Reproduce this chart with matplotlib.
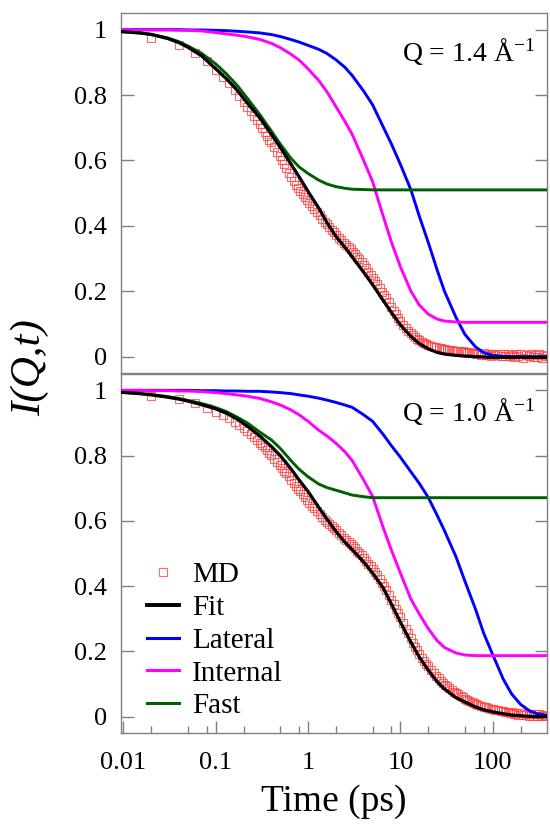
import matplotlib as mpl
import matplotlib.pyplot as plt
from matplotlib.ticker import FixedLocator, FixedFormatter, NullFormatter
from matplotlib.lines import Line2D

mpl.rcParams["font.family"] = ["Liberation Serif", "DejaVu Serif"]
mpl.rcParams["mathtext.fontset"] = "custom"
mpl.rcParams["mathtext.rm"] = "Liberation Serif"
mpl.rcParams["mathtext.it"] = "Liberation Serif:italic"
mpl.rcParams["axes.unicode_minus"] = False

# time grid of the model curves (ps)
t_line = [0.0094, 0.015, 0.02, 0.03, 0.04, 0.05, 0.07, 0.1, 0.13, 0.17, 0.22,
          0.3, 0.4, 0.5, 0.65, 0.8, 1.0, 1.3, 1.6, 2.0, 2.5, 3.0, 4.0, 5.0,
          6.5, 8.0, 10, 13, 16, 20, 25, 30, 40, 50, 65, 80, 100, 130, 160,
          200, 250, 300, 390]

# Q = 1.4 A^-1
fit_14 = [0.994, 0.99, 0.985, 0.973, 0.96, 0.946, 0.92, 0.88, 0.85, 0.815,
          0.775, 0.73, 0.68, 0.64, 0.59, 0.55, 0.505, 0.455, 0.41, 0.368,
          0.335, 0.305, 0.258, 0.22, 0.172, 0.135, 0.097, 0.062, 0.04, 0.024,
          0.013, 0.008, 0.004, 0.002, 0.0, -0.001, -0.002, -0.002, -0.002,
          -0.002, -0.002, -0.002, -0.002]
fast_14 = [0.994, 0.99, 0.986, 0.975, 0.963, 0.95, 0.928, 0.895, 0.865, 0.83,
           0.79, 0.74, 0.69, 0.65, 0.607, 0.58, 0.56, 0.54, 0.528, 0.52,
           0.515, 0.512, 0.511, 0.51, 0.51, 0.51, 0.51, 0.51, 0.51, 0.51,
           0.51, 0.51, 0.51, 0.51, 0.51, 0.51, 0.51, 0.51, 0.51, 0.51, 0.51,
           0.51, 0.51]
internal_14 = [1.0, 0.999, 0.999, 0.999, 0.998, 0.998, 0.996, 0.991, 0.987,
               0.983, 0.978, 0.97, 0.958, 0.945, 0.925, 0.907, 0.88, 0.845,
               0.81, 0.765, 0.72, 0.68, 0.6, 0.535, 0.43, 0.35, 0.275, 0.2,
               0.158, 0.13, 0.115, 0.109, 0.106, 0.105, 0.105, 0.105, 0.105,
               0.105, 0.105, 0.105, 0.105, 0.105, 0.105]
lateral_14 = [1.0, 1.0, 1.0, 1.0, 1.0, 0.999, 0.999, 0.998, 0.997, 0.995,
              0.993, 0.99, 0.985, 0.979, 0.97, 0.962, 0.952, 0.94, 0.927,
              0.908, 0.885, 0.86, 0.812, 0.77, 0.703, 0.65, 0.588, 0.51,
              0.43, 0.35, 0.265, 0.2, 0.12, 0.068, 0.03, 0.012, 0.004, 0.001,
              0.0, 0.0, 0.0, 0.0, 0.0]

# Q = 1.0 A^-1
fit_10 = [0.994, 0.99, 0.986, 0.979, 0.973, 0.967, 0.956, 0.943, 0.93, 0.912,
          0.89, 0.86, 0.828, 0.8, 0.76, 0.725, 0.69, 0.642, 0.605, 0.568,
          0.535, 0.512, 0.474, 0.44, 0.395, 0.345, 0.29, 0.228, 0.183, 0.143,
          0.107, 0.085, 0.058, 0.045, 0.03, 0.021, 0.015, 0.009, 0.005,
          0.003, 0.001, 0.0, 0.0]
fast_10 = [0.994, 0.99, 0.987, 0.981, 0.975, 0.969, 0.96, 0.947, 0.935, 0.918,
           0.9, 0.872, 0.848, 0.822, 0.785, 0.758, 0.735, 0.713, 0.702,
           0.694, 0.686, 0.679, 0.674, 0.671, 0.671, 0.671, 0.671, 0.671,
           0.671, 0.671, 0.671, 0.671, 0.671, 0.671, 0.671, 0.671, 0.671,
           0.671, 0.671, 0.671, 0.671, 0.671, 0.671]
internal_10 = [1.0, 1.0, 0.999, 0.999, 0.998, 0.998, 0.996, 0.993, 0.99,
               0.986, 0.982, 0.975, 0.965, 0.955, 0.94, 0.925, 0.905, 0.878,
               0.86, 0.838, 0.812, 0.785, 0.725, 0.675, 0.58, 0.51, 0.44,
               0.36, 0.315, 0.27, 0.233, 0.212, 0.195, 0.189, 0.187, 0.187,
               0.187, 0.187, 0.187, 0.187, 0.187, 0.187, 0.187]
lateral_10 = [1.0, 1.0, 1.0, 1.0, 1.0, 1.0, 0.999, 0.999, 0.998, 0.998,
              0.997, 0.997, 0.995, 0.993, 0.99, 0.986, 0.982, 0.976, 0.97,
              0.963, 0.955, 0.948, 0.925, 0.905, 0.865, 0.83, 0.795, 0.75,
              0.715, 0.672, 0.617, 0.57, 0.49, 0.415, 0.33, 0.255, 0.19,
              0.115, 0.07, 0.038, 0.018, 0.009, 0.004]

# MD simulation points
t_md = [0.02, 0.04, 0.06, 0.08, 0.10, 0.12, 0.14, 0.16, 0.18, 0.20,
        0.22, 0.24, 0.26, 0.28, 0.30, 0.32, 0.34, 0.36, 0.38, 0.40,
        0.43, 0.46, 0.49, 0.52, 0.55, 0.58,
        0.62, 0.66, 0.70, 0.74, 0.78, 0.82,
        0.87, 0.92, 0.97, 1.03, 1.1, 1.17, 1.25, 1.33, 1.42, 1.51,
        1.6, 1.7, 1.8, 1.9, 2.0,
        2.15, 2.3, 2.45, 2.6, 2.75, 2.9, 3.05, 3.2,
        3.4, 3.6, 3.8, 4.0,
        4.25, 4.5, 4.75, 5.0,
        5.3, 5.6, 5.95, 6.3, 6.65, 7.0,
        7.5, 8.0, 8.5, 9.0, 9.5, 10,
        10.7, 11.5, 12.2, 13, 13.7, 14.5, 15.2, 16,
        17, 18, 19, 20,
        21.5, 23, 24.5, 26, 27.5, 29, 30.5, 32,
        34, 36, 38, 40,
        42.5, 45, 47.5, 50,
        53, 56, 59.5, 63, 66.5, 70,
        75, 80, 85, 90, 95, 100,
        107, 115, 122, 130, 137, 145, 152, 160,
        170, 180, 190, 200,
        215, 230, 245, 260, 275, 290, 305, 320,
        340, 360, 380]
md_14 = [0.975, 0.953, 0.928, 0.903, 0.878, 0.856, 0.836, 0.816, 0.797, 0.780,
         0.764, 0.750, 0.737, 0.724, 0.711, 0.698, 0.686, 0.675, 0.664, 0.655,
         0.641, 0.627, 0.613, 0.600, 0.588, 0.577,
         0.563, 0.550, 0.537, 0.525, 0.515, 0.506,
         0.496, 0.488, 0.480, 0.470, 0.460, 0.451, 0.441, 0.432, 0.422, 0.413,
         0.405, 0.396, 0.388, 0.380, 0.373,
         0.364, 0.356, 0.349, 0.342, 0.335, 0.328, 0.321, 0.314,
         0.306, 0.298, 0.289, 0.281,
         0.270, 0.259, 0.250, 0.241,
         0.231, 0.221, 0.210, 0.199, 0.189, 0.179,
         0.166, 0.153, 0.141, 0.129, 0.118, 0.109,
         0.098, 0.088, 0.080, 0.072, 0.066, 0.060, 0.055, 0.050,
         0.046, 0.042, 0.039, 0.037,
         0.034, 0.031, 0.029, 0.027, 0.025, 0.024, 0.022, 0.021,
         0.020, 0.019, 0.018, 0.017,
         0.016, 0.015, 0.016, 0.013,
         0.012, 0.014, 0.010, 0.012, 0.009, 0.011,
         0.006, 0.010, 0.005, 0.009, 0.003, 0.008,
         0.004, 0.009, 0.002, 0.007, 0.003, 0.008, 0.001, 0.006,
         -0.002, 0.007, 0.002, 0.008,
         -0.003, 0.006, 0.001, 0.009, -0.002, 0.005, 0.000, 0.008,
         -0.003, 0.006, 0.001]
md_10 = [0.984, 0.974, 0.960, 0.946, 0.933, 0.923, 0.914, 0.904, 0.895, 0.885,
         0.876, 0.866, 0.857, 0.848, 0.840, 0.832, 0.825, 0.817, 0.809, 0.801,
         0.791, 0.781, 0.772, 0.763, 0.754, 0.746,
         0.736, 0.726, 0.716, 0.707, 0.699, 0.691,
         0.681, 0.673, 0.665, 0.656, 0.647, 0.638, 0.629, 0.620, 0.612, 0.604,
         0.597, 0.590, 0.583, 0.577, 0.571,
         0.563, 0.556, 0.549, 0.542, 0.535, 0.529, 0.523, 0.517,
         0.509, 0.502, 0.494, 0.487,
         0.478, 0.469, 0.461, 0.452,
         0.443, 0.433, 0.422, 0.411, 0.400, 0.389,
         0.374, 0.359, 0.344, 0.330, 0.317, 0.304,
         0.287, 0.270, 0.255, 0.240, 0.227, 0.214, 0.203, 0.192,
         0.181, 0.171, 0.162, 0.154,
         0.143, 0.134, 0.125, 0.117, 0.110, 0.104, 0.098, 0.093,
         0.087, 0.082, 0.077, 0.072,
         0.068, 0.063, 0.059, 0.055,
         0.051, 0.048, 0.045, 0.042, 0.039, 0.036,
         0.034, 0.031, 0.029, 0.027, 0.025, 0.023,
         0.021, 0.020, 0.016, 0.018, 0.013, 0.015, 0.010, 0.014,
         0.008, 0.012, 0.006, 0.011,
         0.004, 0.009, 0.003, 0.008, 0.002, 0.007, 0.001, 0.008,
         0.002, 0.006, 0.001]

panels = [("Q = 1.4 Å$^{-1}$", md_14, fit_14, lateral_14, internal_14, fast_14),
          ("Q = 1.0 Å$^{-1}$", md_10, fit_10, lateral_10, internal_10, fast_10)]

c_md = "#ff3b3b"
c_fit = "black"
c_lat = "#0000ff"
c_int = "#ff00ff"
c_fast = "#006000"
gray = "#808080"

fig = plt.figure(figsize=(5.5, 8.26), dpi=100)
ax1 = fig.add_axes([0.22, 0.5484, 0.7745, 0.4355])
ax2 = fig.add_axes([0.22, 0.1126, 0.7745, 0.4346], sharex=ax1)

for ax, (qlab, md, fit, lat, inn, fast) in zip([ax1, ax2], panels):
    ax.plot(t_md, md, ls="none", marker="s", ms=6.3, mfc="none",
            mec=c_md, mew=0.8, alpha=0.75, label="MD", zorder=2)
    ax.plot(t_line, lat, color=c_lat, lw=2.1, label="Lateral", zorder=3)
    ax.plot(t_line, inn, color=c_int, lw=2.1, label="Internal", zorder=3)
    ax.plot(t_line, fast, color=c_fast, lw=2.1, label="Fast", zorder=3)
    ax.plot(t_line, fit, color=c_fit, lw=2.3, label="Fit", zorder=4)
    ax.set_xscale("log")
    ax.set_xlim(0.0094, 387)
    ax.set_ylim(-0.05, 1.05)
    ax.yaxis.set_major_locator(FixedLocator([0, 0.2, 0.4, 0.6, 0.8, 1.0]))
    ax.yaxis.set_major_formatter(FixedFormatter(["0", "0.2", "0.4", "0.6", "0.8", "1"]))
    ax.tick_params(axis="y", which="both", direction="in", left=True, right=True,
                   length=9, width=1.0, color=gray, labelsize=19, pad=10)
    for sp in ax.spines.values():
        sp.set_color(gray)
        sp.set_linewidth(1.0)
    ax.text(0.972, 0.895, qlab, transform=ax.transAxes, ha="right", va="center",
            fontsize=20)

ax2.xaxis.set_major_locator(FixedLocator([0.01, 0.1, 1, 10, 100]))
ax2.xaxis.set_major_formatter(FixedFormatter(["0.01", "0.1", "1", "10", "100"]))
ax2.xaxis.set_minor_locator(FixedLocator([m * d for d in [0.01, 0.1, 1, 10, 100]
                                          for m in (2, 5, 8)]))
ax2.xaxis.set_minor_formatter(NullFormatter())
ax2.tick_params(axis="x", which="major", direction="in", length=9, width=1.0,
                color=gray, labelsize=19, pad=14, top=False)
ax2.tick_params(axis="x", which="minor", direction="in", length=5, width=1.0,
                color=gray, top=False)
ax1.tick_params(axis="x", which="both", bottom=False, top=False,
                labelbottom=False)

ax2.set_xlabel("Time (ps)", fontsize=27, labelpad=7)
fig.text(0.055, 0.555, "I(Q,t)", rotation=90, fontsize=31, fontstyle="italic",
         ha="center", va="center")

handles = [Line2D([], [], ls="none", marker="s", ms=6.3, mfc="none", mec=c_md,
                  mew=0.8, alpha=0.75),
           Line2D([], [], color=c_fit, lw=2.8),
           Line2D([], [], color=c_lat, lw=2.2),
           Line2D([], [], color=c_int, lw=2.2),
           Line2D([], [], color=c_fast, lw=2.2)]
ax2.legend(handles, ["MD", "Fit", "Lateral", "Internal", "Fast"],
           loc="lower left", bbox_to_anchor=(0.02, -0.011), frameon=False,
           fontsize=21, handlelength=1.1, handletextpad=0.45,
           labelspacing=0.22, borderpad=0.1)

fig.savefig("out.png", dpi=100)
